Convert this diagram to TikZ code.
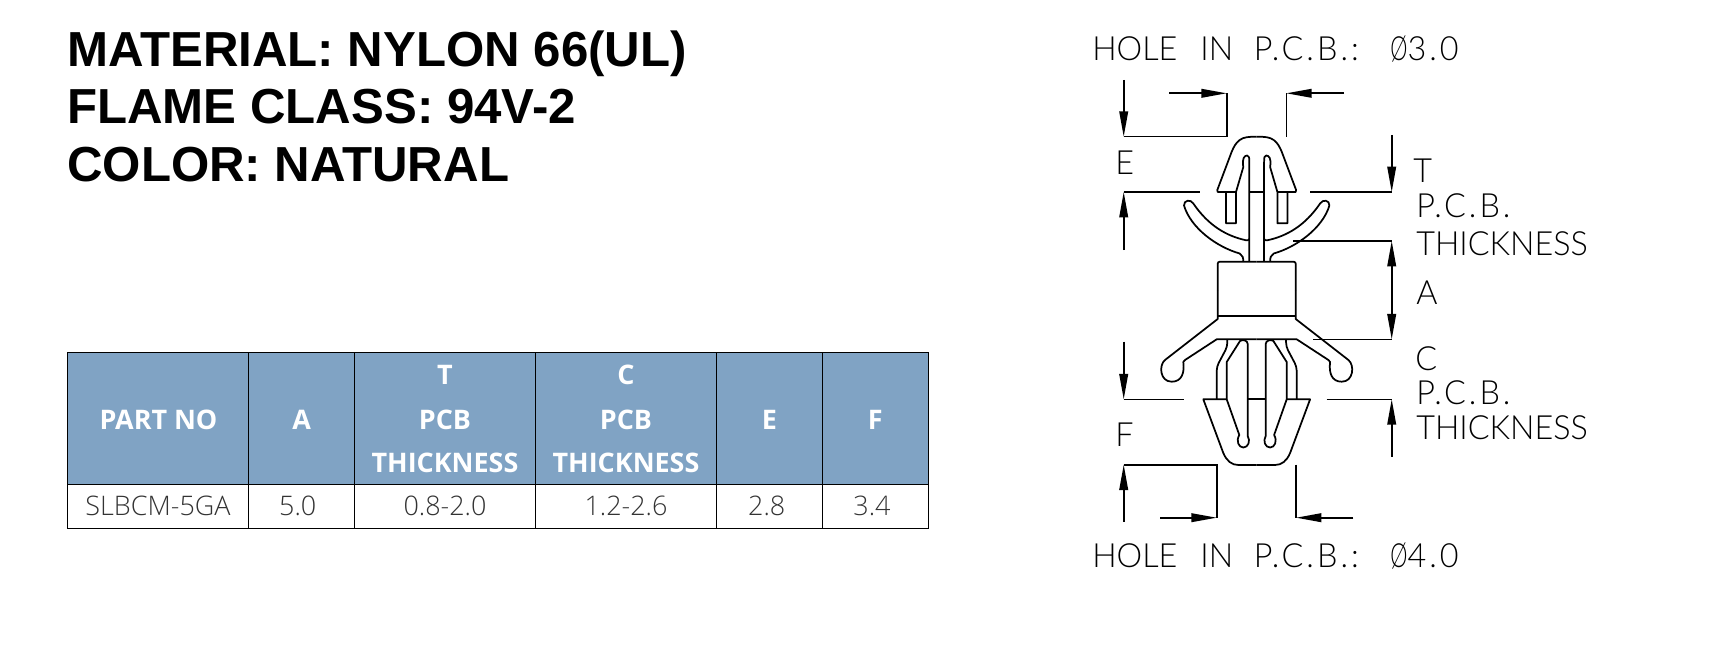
\documentclass[tikz,border=0pt]{standalone}
\usepackage{fontspec}
\usetikzlibrary{arrows.meta}
\setmainfont{Liberation Sans}
\newfontfamily\dimfont[UprightFont=* Light,FakeStretch=0.97]{Lato}
\newfontfamily\phifont[UprightFont=* Light,FakeStretch=0.65]{Lato}
\newfontfamily\hdrfont{Open Sans}
\newfontfamily\cellfont[UprightFont=* Light]{Open Sans}
\newcommand{\spaced}[1]{{\addfontfeature{LetterSpace=9}#1}}
\definecolor{hdrblue}{HTML}{80A3C4}
\definecolor{celltext}{HTML}{333333}
\tikzset{
  titletext/.style={anchor=base west,inner sep=0,font=\fontsize{36.9}{40}\selectfont\bfseries},
  hdrtext/.style={inner sep=0,text=white,font=\hdrfont\bfseries\fontsize{20.2}{24}\selectfont},
  valtext/.style={inner sep=0,text=celltext,font=\cellfont\fontsize{20.2}{24}\selectfont},
  dimtext/.style={anchor=base west,inner sep=0,font=\dimfont\fontsize{25}{30}\selectfont},
  part/.style={line width=1.3pt,line join=round},
  dimline/.style={line width=1.2pt},
  dimtip/.style={dimline,-{Triangle[length=19pt,width=6.5pt]}}
}
\begin{document}
\begin{tikzpicture}[x=0.75pt,y=-0.75pt]
\useasboundingbox (0,0) rectangle (1710,663);
% title
\node[titletext] (material) at (67,66.7) {MATERIAL: NYLON 66(UL)};
\node[titletext] (flame) at (67,123.3) {FLAME CLASS: 94V-2};
\node[titletext] (color) at (67,181.7) {COLOR: NATURAL};
% table
\fill[hdrblue] (67.6,352.7) rectangle (928.3,484.3);
\draw[line width=0.9pt] (67.6,352.7) rectangle (928.3,528.3);
\draw[line width=0.9pt] (67.6,484.3) -- (928.3,484.3);
\foreach \xcol in {248.3,354.2,535.6,716.5,822.3}
  \draw[line width=0.9pt] (\xcol,352.7) -- (\xcol,528.3);
\node[hdrtext] (hpart) at (158.5,419.5) {PART NO};
\node[hdrtext] (ha) at (301.7,419.5) {A};
\node[hdrtext] (ht1) at (445,375) {T};
\node[hdrtext] (ht2) at (445,419.5) {PCB};
\node[hdrtext] (ht3) at (445,463) {THICKNESS};
\node[hdrtext] (hc1) at (626,375) {C};
\node[hdrtext] (hc2) at (626,419.5) {PCB};
\node[hdrtext] (hc3) at (626,463) {THICKNESS};
\node[hdrtext] (he) at (769.5,419.5) {E};
\node[hdrtext] (hf) at (875.3,419.5) {F};
\node[valtext] (vpart) at (158,506) {SLBCM-5GA};
\node[valtext] (va) at (297.7,506) {5.0};
\node[valtext] (vt) at (445,506) {0.8-2.0};
\node[valtext] (vc) at (626,506) {1.2-2.6};
\node[valtext] (ve) at (766.7,506) {2.8};
\node[valtext] (vf) at (872,506) {3.4};
% clip, left half drawn and mirrored
\foreach \sgn in {1,-1}{
\begin{scope}[shift={(1256.7,0)},xscale=\sgn,part]
  % cap
  \draw (0,136.7) .. controls (-8,136.7) and (-13,137) .. (-17,140) .. controls (-21,143) and (-23,147) .. (-25,151.7) -- (-39.4,190) -- (-39,192) -- (-20.7,192) -- (-20.7,223.3) -- (-30.7,223.3) -- (-30.7,192);
  \draw (-20.7,192) -- (-13.4,167) .. controls (-15,158) and (-12,155.5) .. (-9.5,155.5) .. controls (-7.5,155.5) and (-7.4,158) .. (-7.4,162) -- (-7.4,261.7);
  \draw (-7.4,192) -- (0,192);
  % wing
  \draw (-7.4,239) .. controls (-8,240) and (-9,240.7) .. (-11,240.2) .. controls (-30,236) and (-48,226) .. (-63.4,203.5) .. controls (-66,199) and (-73,200) .. (-72.7,205.5) .. controls (-66,228) and (-40,247) .. (-17,253.5) .. controls (-14,255) and (-13.4,258) .. (-13.4,261.7);
  % collar and flange
  \draw[rounded corners=1.5pt] (0,261.7) -- (-39,261.7) -- (-39,290);
  \draw (-39,290) -- (-39,319) -- (-91.7,360) .. controls (-98,365) and (-97,381.7) .. (-85,381.7) .. controls (-75,381.7) and (-72,373) .. (-73.4,362) -- (-71.7,360) -- (-40,339.3) -- (0,339.3);
  \draw (-39,316) -- (0,316);
  % legs
  \draw[rounded corners=3pt] (-29.4,339.3) -- (-29.4,346.7) -- (-40,366.7) -- (-40,399.3);
  \draw (-9,436) -- (-9,344) .. controls (-9,340.5) and (-14,339) .. (-16.7,341) -- (-30,362) -- (-30,399.3) -- (-17.4,435) .. controls (-21,441) and (-18,447.5) .. (-13.4,447.5) .. controls (-8.5,447.5) and (-6,441) .. (-9,436);
  \draw (-9,399.3) -- (0,399.3);
  % lower cap
  \draw (-30,399.3) -- (-53.4,399.3) -- (-33.4,453) .. controls (-30,461) and (-25,465) .. (-18.4,465) -- (0,465);
\end{scope}}
% dimensions
\draw[dimtip] (1123.7,80) -- (1123.7,136.7);
\draw[dimline] (1123.7,136.7) -- (1226.7,136.7) -- (1226.7,93.3);
\draw[dimtip] (1169,93.3) -- (1226.7,93.3);
\draw[dimline] (1286.3,136.7) -- (1286.3,93.3);
\draw[dimtip] (1344,93.3) -- (1286.3,93.3);
\draw[dimtip] (1123.7,250) -- (1123.7,192);
\draw[dimline] (1123.7,192) -- (1200,192);
\draw[dimtip] (1391.7,135) -- (1391.7,192);
\draw[dimline] (1310,192) -- (1391.7,192);
\draw[dimline] (1293,241) -- (1391.7,241);
\draw[dimline] (1313,339.3) -- (1391.7,339.3);
\draw[dimtip,{Triangle[length=19pt,width=6.5pt]}-{Triangle[length=19pt,width=6.5pt]}] (1391.7,241) -- (1391.7,339.3);
\draw[dimtip] (1391.7,456.7) -- (1391.7,399.3);
\draw[dimline] (1326.7,399.3) -- (1391.7,399.3);
\draw[dimtip] (1123.7,341.7) -- (1123.7,399.3);
\draw[dimline] (1123.7,399.3) -- (1184.3,399.3);
\draw[dimtip] (1123.7,521.7) -- (1123.7,464.7);
\draw[dimline] (1123.7,464.7) -- (1216.7,464.7) -- (1216.7,517.7);
\draw[dimtip] (1160,517.7) -- (1216.7,517.7);
\draw[dimline] (1296,464.7) -- (1296,517.7);
\draw[dimtip] (1353.3,517.7) -- (1296,517.7);
% dimension texts
\node[dimtext] (hole3) at (1092,60.7) {HOLE\hspace{.43em} IN\hspace{.35em} \spaced{P.C.B.:}\hspace{.6em} {\phifont Ø}\spaced{3.0}};
\node[dimtext] (hole4) at (1092,567.3) {HOLE\hspace{.43em} IN\hspace{.35em} \spaced{P.C.B.:}\hspace{.6em} {\phifont Ø}\spaced{4.0}};
\node[dimtext] (lble) at (1115,175) {E};
\node[dimtext] (lblt) at (1413,183) {T};
\node[dimtext] (pcbt) at (1416,218) {\spaced{P.C.B.}};
\node[dimtext] (thickt) at (1416,255) {THICKNESS};
\node[dimtext] (lbla) at (1416,304) {A};
\node[dimtext] (lblc) at (1415,370) {C};
\node[dimtext] (pcbc) at (1416,404) {\spaced{P.C.B.}};
\node[dimtext] (thickc) at (1416,439) {THICKNESS};
\node[dimtext] (lblf) at (1115,446) {F};
\end{tikzpicture}
\end{document}
